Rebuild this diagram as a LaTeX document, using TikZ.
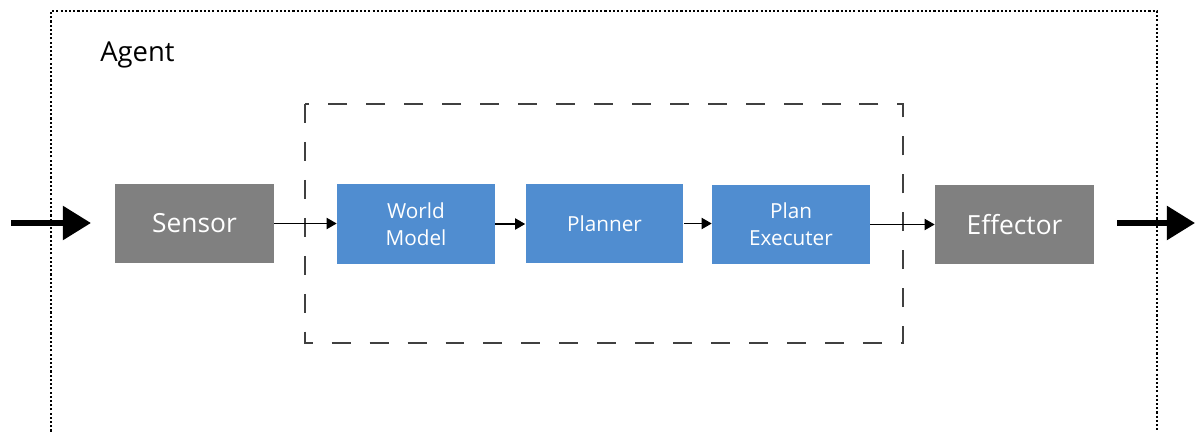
\documentclass[tikz,border=0pt]{standalone}
\usepackage{fontspec}
\setmainfont{Open Sans}
\usetikzlibrary{arrows.meta}

\definecolor{boxgray}{RGB}{128,128,128}
\definecolor{boxblue}{RGB}{80,141,208}
\definecolor{dashgray}{RGB}{64,64,64}

\tikzset{
  px/.style={x=0.02cm,y=-0.02cm},
  io/.style={draw=none,fill=boxgray,text=white,minimum width=3.18cm,minimum height=1.6cm,
             inner sep=0pt,font=\fontsize{15}{17}\selectfont},
  stage/.style={draw=none,fill=boxblue,text=white,minimum width=3.16cm,minimum height=1.6cm,
                inner sep=0pt,align=center,font=\fontsize{11.8}{15.3}\selectfont},
  flow/.style={line width=0.6pt,-{Triangle[length=5.7pt,width=6.4pt]}},
  bigflow/.style={line width=3.4pt,-{Triangle[length=16pt,width=18.7pt]}},
  agentframe/.style={draw=black,line width=0.6pt,dash pattern=on 1.2pt off 1.2pt},
  coreframe/.style={draw=dashgray,line width=0.8pt,dash pattern=on 10.8pt off 10.8pt},
}

\begin{document}
\begin{tikzpicture}[px]
  \useasboundingbox (0,0) rectangle (1195,432);

  % agent boundary (open at the bottom edge)
  \draw[agentframe] (51,440) -- (51,11) -- (1157,11) -- (1157,440);
  \node[anchor=base west,font=\fontsize{15.6}{18}\selectfont,inner sep=0pt] (agent) at (100,62) {Agent};

  % reasoning core
  \draw[coreframe] (305,104) rectangle (903,343);

  % blocks
  \node[io]    (sensor)   at (194.5,223.5) {Sensor};
  \node[stage] (world)    at (416,224)     {World\\Model};
  \node[stage] (planner)  at (604.5,223.5) {Planner};
  \node[stage] (executer) at (791,224.5)   {Plan\\Executer};
  \node[io]    (effector) at (1014.5,224.5){Effector};

  % input and output
  \coordinate (in)    at (11,223);
  \coordinate (inend) at (91,223);
  \coordinate (outstart) at (1117,223);
  \coordinate (out)   at (1195,223);
  \draw[bigflow] (in) -- (inend);
  \draw[bigflow] (outstart) -- (out);

  % internal flow
  \draw[flow] (sensor.east) -- (sensor.east -| world.west);
  \draw[flow] (world.east) -- (world.east -| planner.west);
  \draw[flow] (planner.east) -- (planner.east -| executer.west);
  \draw[flow] (executer.east) -- (executer.east -| effector.west);
\end{tikzpicture}
\end{document}
